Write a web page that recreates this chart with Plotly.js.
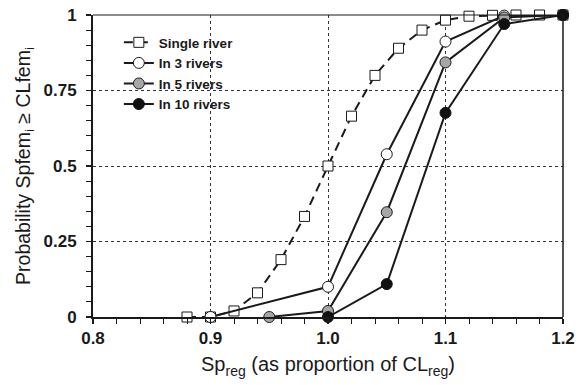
<!DOCTYPE html>
<html>
<head>
<meta charset="utf-8">
<script src="https://cdn.plot.ly/plotly-2.35.2.min.js"></script>
<style>html,body{margin:0;padding:0;background:#fff;}#chart{width:578px;height:385px;}</style>
</head>
<body>
<div id="chart"></div>
<script>
// Data
const singleX = [0.88, 0.90, 0.92, 0.94, 0.96, 0.98, 1.00, 1.02, 1.04, 1.06, 1.08, 1.10, 1.12, 1.14, 1.16, 1.18, 1.20];
const singleY = [0, 0, 0.02, 0.08, 0.19, 0.333, 0.50, 0.665, 0.80, 0.89, 0.95, 0.983, 0.996, 0.999, 1, 1, 1];

const r3X = [0.90, 1.00, 1.05, 1.10, 1.15, 1.20];
const r3Y = [0, 0.10, 0.539, 0.912, 0.998, 1];

const r5X = [0.95, 1.00, 1.05, 1.10, 1.15, 1.20];
const r5Y = [0, 0.02, 0.347, 0.843, 0.992, 1];

const r10X = [1.00, 1.05, 1.10, 1.15, 1.20];
const r10Y = [0, 0.109, 0.676, 0.970, 1];

const names = ["Single river", "In 3 rivers", "In 5 rivers", "In 10 rivers"];
const yTickVals = [0, 0.25, 0.5, 0.75, 1];
const yTickText = ["0", "0.25", "0.5", "0.75", "1"];
const xTickVals = [0.8, 0.9, 1.0, 1.1, 1.2];
const xTickText = ["0.8", "0.9", "1.0", "1.1", "1.2"];

const FONT = "Liberation Sans, Arial, sans-serif";

const traces = [
  {x: singleX, y: singleY, name: names[0], mode: "lines+markers", cliponaxis: false,
   line: {color: "#1a1a1a", width: 2, dash: "9px,6px"},
   marker: {symbol: "square", size: 10, color: "#ffffff", line: {color: "#1a1a1a", width: 1}}},
  {x: r3X, y: r3Y, name: names[1], mode: "lines+markers", cliponaxis: false,
   line: {color: "#1a1a1a", width: 2},
   marker: {symbol: "circle", size: 11, color: "#ffffff", line: {color: "#1a1a1a", width: 1}}},
  {x: r5X, y: r5Y, name: names[2], mode: "lines+markers", cliponaxis: false,
   line: {color: "#1a1a1a", width: 2},
   marker: {symbol: "circle", size: 11, color: "#a6a6a6", line: {color: "#1a1a1a", width: 1}}},
  {x: r10X, y: r10Y, name: names[3], mode: "lines+markers", cliponaxis: false,
   line: {color: "#1a1a1a", width: 2},
   marker: {symbol: "circle", size: 11, color: "#111111", line: {color: "#111111", width: 1}}}
];

const layout = {
  width: 578, height: 385,
  margin: {l: 93, r: 15, t: 15, b: 68},
  paper_bgcolor: "#ffffff", plot_bgcolor: "#ffffff",
  font: {family: FONT, color: "#1a1a1a"},
  showlegend: true,
  legend: {x: 0.055, y: 0.96, xanchor: "left", yanchor: "top",
           bgcolor: "rgba(255,255,255,0)", borderwidth: 0,
           font: {family: FONT, size: 13.5, color: "#1a1a1a", weight: "bold"},
           tracegroupgap: 0, itemwidth: 30},
  xaxis: {
    range: [0.8, 1.2], tickvals: xTickVals, ticktext: xTickText,
    showline: true, linecolor: "#1a1a1a", linewidth: 2,
    ticks: "outside", ticklen: 5, tickwidth: 1.5, tickcolor: "#1a1a1a",
    tickfont: {family: FONT, size: 17, color: "#1a1a1a", weight: "bold"},
    showgrid: true, gridcolor: "#333333", gridwidth: 1, griddash: "dot",
    minor: {dtick: 0.02, tick0: 0.8, ticks: "outside", ticklen: 5, tickwidth: 1, tickcolor: "#1a1a1a", showgrid: false},
    zeroline: false,
    title: {text: "Sp<sub>reg</sub> (as proportion of CL<sub>reg</sub>)", font: {family: FONT, size: 20, color: "#1a1a1a"}, standoff: 10}
  },
  yaxis: {
    range: [0, 1], tickvals: yTickVals, ticktext: yTickText,
    showline: true, linecolor: "#1a1a1a", linewidth: 2,
    ticks: "outside", ticklen: 5, tickwidth: 1.5, tickcolor: "#1a1a1a",
    ticklabelstandoff: 6,
    tickfont: {family: FONT, size: 17, color: "#1a1a1a", weight: "bold"},
    showgrid: true, gridcolor: "#333333", gridwidth: 1, griddash: "dot",
    minor: {dtick: 0.05, tick0: 0, ticks: "outside", ticklen: 5, tickwidth: 1, tickcolor: "#1a1a1a", showgrid: false},
    zeroline: false,
    title: {text: "Probability Spfem<sub>i</sub> ≥ CLfem<sub>i</sub>", font: {family: FONT, size: 19.5, color: "#1a1a1a"}, standoff: 8}
  },
  shapes: [
    {type: "line", xref: "paper", yref: "paper", x0: 0, x1: 1, y0: 1, y1: 1, line: {color: "#1a1a1a", width: 1}},
    {type: "line", xref: "paper", yref: "paper", x0: 1, x1: 1, y0: 0, y1: 1, line: {color: "#1a1a1a", width: 1.5}}
  ]
};

Plotly.newPlot("chart", traces, layout, {displayModeBar: false, staticPlot: true});
</script>
</body>
</html>
